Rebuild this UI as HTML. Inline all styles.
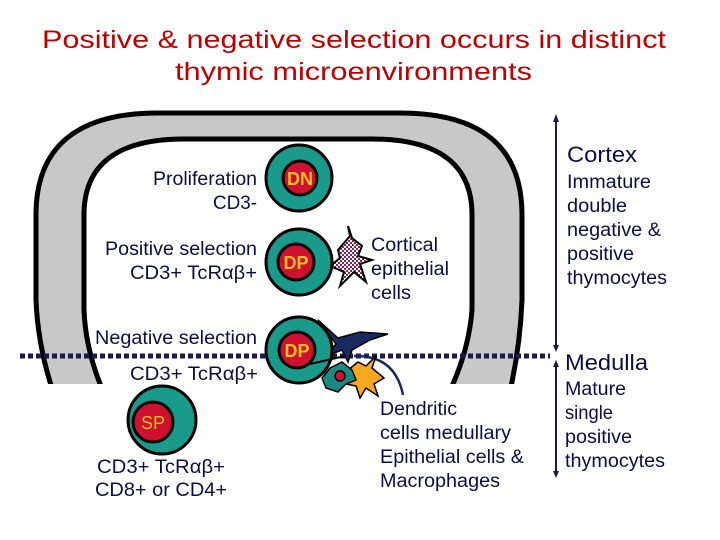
<!DOCTYPE html>
<html><head><meta charset="utf-8"><style>
html,body{margin:0;padding:0;background:#fff;}
svg{display:block;}
text{font-family:"Liberation Sans",Arial,sans-serif;fill:#0c0c48;}
</style></head><body>
<svg width="720" height="540" viewBox="0 0 720 540" xmlns="http://www.w3.org/2000/svg">
<defs>
<clipPath id="cl"><rect x="0" y="0" width="720" height="384"/></clipPath>
<pattern id="dots" width="4" height="4" patternUnits="userSpaceOnUse"><rect width="4" height="4" fill="#fff"/><rect width="2" height="2" fill="#8a2050"/><rect x="2" y="2" width="2" height="2" fill="#8a2050"/></pattern>
</defs>
<text x="42" y="48" font-size="25" textLength="624" lengthAdjust="spacingAndGlyphs" style="fill:#c00000">Positive &amp; negative selection occurs in distinct</text>
<text x="175" y="80" font-size="25" textLength="357" lengthAdjust="spacingAndGlyphs" style="fill:#c00000">thymic microenvironments</text>

<g clip-path="url(#cl)">
<path d="M56,400 Q38,350 36,300 L36,215 Q36,113 158,113 L400,113 Q522,113 522,215 L522,300 Q520,350 508,400 Z" fill="#c8c8c8" stroke="#000" stroke-width="5"/>
<path d="M112,410 Q86,360 84,310 L84,215 Q84,139 184,139 L372,139 Q472,139 472,215 L472,310 Q468,360 440,410 Z" fill="#fff" stroke="#000" stroke-width="5"/>
</g>
<rect x="0" y="384" width="560" height="20" fill="#fff"/>

<line x1="20" y1="356" x2="550" y2="356" stroke="#1a1a50" stroke-width="5" stroke-dasharray="5,3"/>
<line x1="556" y1="120" x2="556" y2="349" stroke="#1a1a50" stroke-width="2"/>
<polygon points="556,114 553,122 559,122" fill="#1a1a50"/>
<polygon points="556,352 553,345 559,345" fill="#1a1a50"/>
<line x1="556" y1="364" x2="556" y2="474" stroke="#1a1a50" stroke-width="2"/>
<polygon points="556,360 553,367 559,367" fill="#1a1a50"/>
<polygon points="556,478 553,471 559,471" fill="#1a1a50"/>

<path d="M338,250 L350,236 L348,226 L352,238 L362,246 L358,256 L372,260 L360,264 L366,282 L354,272 L340,286 L344,272 L330,266 L340,258 Z" fill="url(#dots)" stroke="#000" stroke-width="2"/>
<path d="M318,320 L338,338 L360,332 L388,334 L370,340 L352,350 L348,362 L342,350 L326,356 L336,344 Z" fill="#1a2a60" stroke="#000" stroke-width="1.5"/>
<path d="M354,356 Q395,355 403,395" fill="none" stroke="#1a2a60" stroke-width="2.5"/>
<path d="M348,370 L358,362 L366,366 L376,356 L372,368 L384,378 L374,384 L378,396 L366,388 L360,398 L356,386 L346,384 L352,378 Z" fill="#f8a820" stroke="#000" stroke-width="1.5"/>
<path d="M330,368 L342,362 L352,370 L356,380 L346,384 L338,392 L326,388 L322,378 Z" fill="#1a8a80" stroke="#000" stroke-width="1.5"/>
<circle cx="340" cy="376" r="5" fill="#d01030" stroke="#000" stroke-width="1.5"/>

<g stroke="#000" stroke-width="3">
<circle cx="299" cy="178" r="33" fill="#1a9a8a"/><circle cx="300" cy="178" r="17" fill="#d01030"/>
<circle cx="299" cy="262" r="33" fill="#1a9a8a"/><circle cx="296" cy="262" r="18" fill="#d01030"/>
<circle cx="299" cy="350" r="33" fill="#1a9a8a"/><circle cx="297" cy="350" r="18" fill="#d01030"/>
<circle cx="162" cy="420" r="34" fill="#1a9a8a"/><circle cx="153" cy="422" r="20" fill="#d01030"/>
</g>
<line x1="310" y1="364" x2="345" y2="356" stroke="#000" stroke-width="2"/>
<g font-size="18" font-weight="bold" text-anchor="middle">
<text x="300" y="185" style="fill:#f8c020">DN</text>
<text x="296" y="269" style="fill:#f8c020">DP</text>
<text x="297" y="357" style="fill:#f8c020">DP</text>
<text x="153" y="429" font-weight="normal" style="fill:#f8c020">SP</text>
</g>

<g font-size="19" lengthAdjust="spacingAndGlyphs">
<text x="153" y="185" textLength="104" lengthAdjust="spacingAndGlyphs">Proliferation</text>
<text x="213" y="209" textLength="44" lengthAdjust="spacingAndGlyphs">CD3-</text>
<text x="105" y="255" textLength="152" lengthAdjust="spacingAndGlyphs">Positive selection</text>
<text x="130" y="279" textLength="127" lengthAdjust="spacingAndGlyphs">CD3+ TcRαβ+</text>
<text x="95" y="344" textLength="162" lengthAdjust="spacingAndGlyphs">Negative selection</text>
<text x="130" y="380" textLength="128" lengthAdjust="spacingAndGlyphs">CD3+ TcRαβ+</text>
<text x="97" y="473" textLength="128" lengthAdjust="spacingAndGlyphs">CD3+ TcRαβ+</text>
<text x="95" y="496" textLength="132" lengthAdjust="spacingAndGlyphs">CD8+ or CD4+</text>
<text x="371" y="251" textLength="67" lengthAdjust="spacingAndGlyphs">Cortical</text>
<text x="371" y="275" textLength="78" lengthAdjust="spacingAndGlyphs">epithelial</text>
<text x="371" y="299" textLength="40" lengthAdjust="spacingAndGlyphs">cells</text>
<text x="380" y="415" textLength="77" lengthAdjust="spacingAndGlyphs">Dendritic</text>
<text x="380" y="439" textLength="131" lengthAdjust="spacingAndGlyphs">cells medullary</text>
<text x="380" y="463" textLength="144" lengthAdjust="spacingAndGlyphs">Epithelial cells &amp;</text>
<text x="380" y="487" textLength="120" lengthAdjust="spacingAndGlyphs">Macrophages</text>
<text x="567" y="162" font-size="22" textLength="70" lengthAdjust="spacingAndGlyphs">Cortex</text>
<text x="567" y="188" textLength="84" lengthAdjust="spacingAndGlyphs">Immature</text>
<text x="567" y="212" textLength="60" lengthAdjust="spacingAndGlyphs">double</text>
<text x="567" y="236" textLength="94" lengthAdjust="spacingAndGlyphs">negative &amp;</text>
<text x="567" y="260" textLength="67" lengthAdjust="spacingAndGlyphs">positive</text>
<text x="567" y="284" textLength="100" lengthAdjust="spacingAndGlyphs">thymocytes</text>
<text x="565" y="370" font-size="22" textLength="83" lengthAdjust="spacingAndGlyphs">Medulla</text>
<text x="565" y="395" textLength="61" lengthAdjust="spacingAndGlyphs">Mature</text>
<text x="565" y="419" textLength="48" lengthAdjust="spacingAndGlyphs">single</text>
<text x="565" y="443" textLength="67" lengthAdjust="spacingAndGlyphs">positive</text>
<text x="565" y="467" textLength="100" lengthAdjust="spacingAndGlyphs">thymocytes</text>
</g>
</svg>
</body></html>
